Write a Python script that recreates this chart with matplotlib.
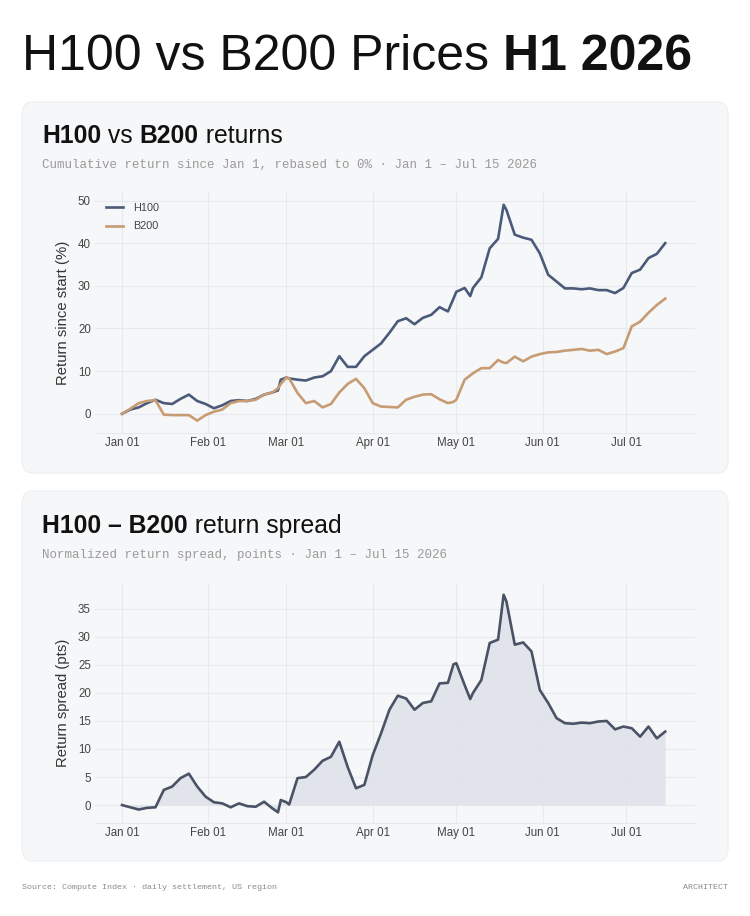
import matplotlib
matplotlib.use("Agg")
import matplotlib.pyplot as plt
import matplotlib.dates as mdates
from matplotlib.patches import FancyBboxPatch
import pandas as pd

W, H = 750, 916

day_offset = [0, 3, 6, 9, 12, 15, 18, 21, 24, 27, 30, 33, 36, 39, 42, 45, 48, 51, 54,
              56, 57, 59, 60, 63, 66, 69, 72, 75, 78, 81, 84, 87, 90, 93, 96, 99, 102,
              105, 108, 111, 114, 117, 119, 120, 123, 125, 126, 129, 132, 135, 137, 138,
              141, 144, 147, 150, 153, 156, 159, 162, 165, 168, 171, 174, 177, 180, 183,
              186, 189, 192, 195]

h100 = [0, 1.0, 1.5, 2.5, 3.3, 2.5, 2.3, 3.5, 4.5, 3.0, 2.3, 1.3, 2.0, 3.0, 3.2, 3.0, 3.5, 4.5, 5.0,
        5.5, 8.0, 8.5, 8.3, 8.0, 7.8, 8.5, 8.8, 10.0, 13.5, 11.0, 11.0, 13.5, 15.0, 16.5, 19.0, 21.7, 22.4,
        21.0, 22.5, 23.2, 25.0, 24.0, 27.0, 28.6, 29.5, 27.6, 29.5, 32.0, 38.8, 41.0, 49.0, 47.8,
        42.0, 41.3, 40.8, 37.6, 32.6, 31.0, 29.4, 29.4, 29.2, 29.4, 29.0, 29.0, 28.3, 29.5, 33.0,
        33.8, 36.5, 37.5, 40.0]

b200 = [0, 1.2, 2.5, 3.0, 3.2, -0.2, -0.3, -0.3, -0.3, -1.6, -0.3, 0.5, 1.0, 2.5, 3.0, 3.0, 3.3, 4.5, 5.0,
        6.0, 7.0, 8.5, 8.3, 4.9, 2.5, 3.0, 1.5, 2.3, 5.0, 7.0, 8.2, 6.0, 2.5, 1.7, 1.6, 1.5, 3.3,
        4.0, 4.5, 4.6, 3.4, 2.5, 2.8, 3.3, 8.0, 9.0, 9.5, 10.7, 10.7, 12.6, 12.0, 11.9,
        13.4, 12.3, 13.4, 14.0, 14.4, 14.5, 14.8, 15.0, 15.2, 14.8, 15.0, 14.0, 14.6, 15.4, 20.5,
        21.6, 23.7, 25.5, 27.0]

spread = [0, -0.4, -0.8, -0.5, -0.4, 2.7, 3.3, 4.8, 5.6, 3.3, 1.5, 0.5, 0.3, -0.4, 0.3, -0.2, -0.3, 0.6, -0.6,
          -1.3, 0.9, 0.5, 0.1, 4.8, 5.0, 6.3, 7.9, 8.6, 11.3, 6.8, 3.0, 3.6, 8.9, 12.8, 17.0, 19.5, 19.0,
          17.0, 18.2, 18.5, 21.7, 21.8, 25.1, 25.3, 21.4, 18.9, 20.0, 22.3, 28.9, 29.5, 37.5, 36.3,
          28.6, 29.0, 27.4, 20.5, 18.2, 15.5, 14.6, 14.5, 14.7, 14.6, 14.9, 15.0, 13.5, 14.0, 13.7,
          12.2, 14.0, 11.9, 13.1]

ret_ticks = [0, 10, 20, 30, 40, 50]
spread_ticks = [0, 5, 10, 15, 20, 25, 30, 35]

start = pd.Timestamp("2026-01-01")
dates = start + pd.to_timedelta(day_offset, unit="D")

C_H100 = "#4b5a79"
C_B200 = "#c79b73"
C_CARD = "#f6f7f9"
C_GRID = "#e6e9ee"
SANS = "Liberation Sans"
MONO = "Liberation Mono"

fig = plt.figure(figsize=(W / 100, H / 100), dpi=100)
fig.patch.set_facecolor("white")
renderer = fig.canvas.get_renderer()


def fx(px):
    return px / W


def fy(py):
    return 1 - py / H


def runs(x, y, parts, size, color="#111111", family=SANS):
    # lay out mixed-weight text pieces one after the other
    x = fx(x)
    for s, weight in parts:
        t = fig.text(x, fy(y), s, fontsize=size, fontweight=weight, family=family,
                     color=color, va="baseline", ha="left")
        x += t.get_window_extent(renderer).width / W


def card(top, bottom):
    fig.patches.append(FancyBboxPatch((fx(22), fy(bottom)), fx(706), (bottom - top) / H,
                                      boxstyle="round,pad=0,rounding_size=0.014",
                                      transform=fig.transFigure, facecolor=C_CARD,
                                      edgecolor="#eceef2", linewidth=0.8, zorder=-10))


def style_axes(ax, ticks, ylim, ylabel):
    ax.set_facecolor("none")
    ax.set_xlim(start - pd.Timedelta(days=9.7), start + pd.Timedelta(days=205.7))
    ax.set_ylim(*ylim)
    ax.set_yticks(ticks)
    ax.xaxis.set_major_locator(mdates.MonthLocator())
    ax.xaxis.set_major_formatter(mdates.DateFormatter("%b %d"))
    ax.grid(True, color=C_GRID, linewidth=0.8)
    ax.set_axisbelow(True)
    for side in ["top", "right", "left"]:
        ax.spines[side].set_visible(False)
    ax.spines["bottom"].set_color(C_GRID)
    ax.tick_params(length=0, labelsize=8.3, colors="#444444", pad=3)
    for lab in ax.get_xticklabels() + ax.get_yticklabels():
        lab.set_family(SANS)
    ax.set_ylabel(ylabel, fontsize=10.7, color="#333333", family=SANS, labelpad=6)


# headline
runs(22, 70, [("H100 vs B200 Prices ", "normal"), ("H1 2026", "bold")], 36)

# top card: returns
card(102, 473)
runs(42, 143, [("H100", "bold"), (" vs ", "normal"), ("B200", "bold"), (" returns", "normal")], 17.8)
fig.text(fx(42), fy(168), "Cumulative return since Jan 1, rebased to 0% · Jan 1 – Jul 15 2026",
         fontsize=9.0, family=MONO, color="#9a9a9a")

ax1 = fig.add_axes([fx(95), fy(433), fx(600), (433 - 192) / H])
ax1.plot(dates, h100, color=C_H100, linewidth=1.9, label="H100")
ax1.plot(dates, b200, color=C_B200, linewidth=1.9, label="B200")
style_axes(ax1, ret_ticks, (-4.5, 52), "Return since start (%)")
leg = ax1.legend(loc="upper left", bbox_to_anchor=(0.005, 0.985), frameon=False,
                 fontsize=7.8, handlelength=1.6, handletextpad=0.9, labelspacing=0.75,
                 borderaxespad=0.3)
for t in leg.get_texts():
    t.set_color("#444444")
    t.set_family(SANS)

# bottom card: spread
card(491, 861)
runs(42, 533, [("H100 – B200", "bold"), (" return spread", "normal")], 17.8)
fig.text(fx(42), fy(558), "Normalized return spread, points · Jan 1 – Jul 15 2026",
         fontsize=9.0, family=MONO, color="#9a9a9a")

ax2 = fig.add_axes([fx(95), fy(823), fx(600), (823 - 583) / H])
ax2.fill_between(dates, spread, 0, color="#dfe3ea", alpha=0.9, linewidth=0)
ax2.plot(dates, spread, color="#4a5366", linewidth=1.9)
style_axes(ax2, spread_ticks, (-3.2, 39.6), "Return spread (pts)")

# footer
fig.text(fx(22), fy(889), "Source: Compute Index · daily settlement, US region",
         fontsize=6.0, family=MONO, color="#8a8a8a")
fig.text(fx(728), fy(889), "ARCHITECT", fontsize=6.0, family=MONO, color="#8a8a8a", ha="right")

fig.savefig("out.png", dpi=100, facecolor="white")
